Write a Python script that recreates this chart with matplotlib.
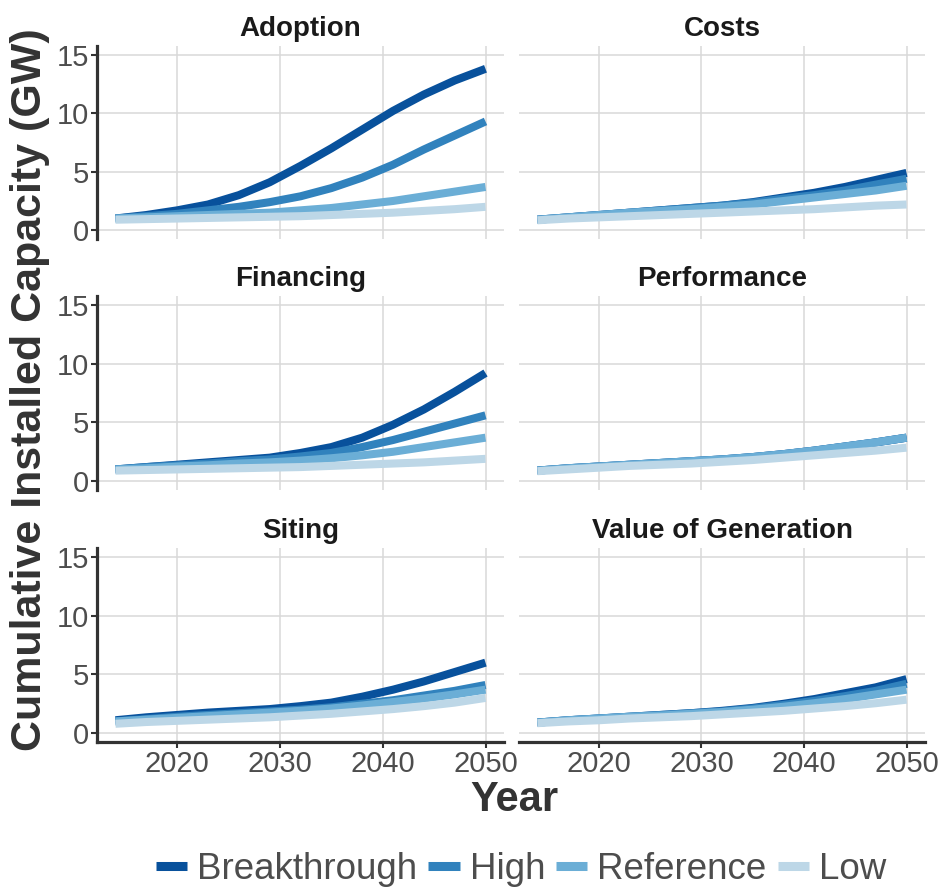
import matplotlib
matplotlib.use("Agg")
import matplotlib.pyplot as plt

plt.rcParams['font.family'] = ['Liberation Sans', 'DejaVu Sans']

years = [2014, 2017, 2020, 2023, 2026, 2029, 2032, 2035, 2038, 2041, 2044, 2047, 2050]
scenarios = ['Breakthrough', 'High', 'Reference', 'Low']
colors = ['#08519C', '#3182BD', '#6BAED6', '#BDD7E7']
panels = ['Adoption', 'Costs', 'Financing', 'Performance', 'Siting', 'Value of Generation']

# cumulative installed capacity (GW)
adoption_breakthrough = [1.0, 1.3, 1.7, 2.2, 3.0, 4.1, 5.5, 7.0, 8.6, 10.2, 11.6, 12.8, 13.8]
adoption_high = [1.0, 1.2, 1.4, 1.7, 2.0, 2.4, 2.9, 3.6, 4.5, 5.6, 6.9, 8.1, 9.3]
adoption_reference = [1.0, 1.1, 1.2, 1.3, 1.4, 1.5, 1.7, 1.9, 2.2, 2.5, 2.9, 3.3, 3.7]
adoption_low = [0.9, 0.95, 1.0, 1.05, 1.1, 1.15, 1.2, 1.3, 1.4, 1.5, 1.65, 1.8, 2.0]

costs_breakthrough = [0.9, 1.1, 1.3, 1.5, 1.7, 1.9, 2.1, 2.4, 2.8, 3.2, 3.7, 4.3, 4.9]
costs_high = [0.9, 1.1, 1.3, 1.5, 1.7, 1.9, 2.1, 2.35, 2.7, 3.0, 3.4, 3.9, 4.4]
costs_reference = [0.9, 1.1, 1.3, 1.5, 1.65, 1.8, 2.0, 2.2, 2.5, 2.8, 3.1, 3.4, 3.8]
costs_low = [0.85, 1.0, 1.1, 1.2, 1.3, 1.4, 1.5, 1.6, 1.7, 1.8, 1.95, 2.1, 2.2]

financing_breakthrough = [1.0, 1.2, 1.4, 1.6, 1.8, 2.0, 2.4, 2.9, 3.7, 4.8, 6.1, 7.6, 9.2]
financing_high = [1.0, 1.2, 1.35, 1.5, 1.7, 1.85, 2.1, 2.4, 2.9, 3.5, 4.2, 4.9, 5.6]
financing_reference = [1.0, 1.1, 1.25, 1.35, 1.5, 1.6, 1.75, 1.95, 2.2, 2.5, 2.9, 3.3, 3.7]
financing_low = [0.9, 0.95, 1.0, 1.05, 1.1, 1.15, 1.2, 1.3, 1.4, 1.5, 1.6, 1.75, 1.9]

performance_breakthrough = [0.9, 1.1, 1.25, 1.4, 1.55, 1.7, 1.85, 2.05, 2.3, 2.6, 2.95, 3.3, 3.7]
performance_high = [0.9, 1.1, 1.25, 1.4, 1.55, 1.7, 1.85, 2.05, 2.3, 2.6, 2.95, 3.3, 3.7]
performance_reference = [0.9, 1.1, 1.25, 1.4, 1.55, 1.7, 1.85, 2.05, 2.3, 2.6, 2.95, 3.3, 3.7]
performance_low = [0.85, 1.0, 1.15, 1.3, 1.4, 1.5, 1.65, 1.8, 2.0, 2.2, 2.4, 2.6, 2.85]

siting_breakthrough = [1.1, 1.35, 1.55, 1.75, 1.9, 2.05, 2.3, 2.6, 3.1, 3.7, 4.4, 5.2, 6.0]
siting_high = [1.0, 1.2, 1.4, 1.55, 1.7, 1.85, 2.0, 2.2, 2.5, 2.8, 3.2, 3.6, 4.1]
siting_reference = [1.0, 1.15, 1.3, 1.45, 1.6, 1.75, 1.9, 2.1, 2.35, 2.65, 2.95, 3.3, 3.7]
siting_low = [0.8, 0.95, 1.05, 1.15, 1.25, 1.35, 1.5, 1.65, 1.85, 2.05, 2.3, 2.6, 3.0]

value_breakthrough = [0.9, 1.1, 1.25, 1.4, 1.55, 1.7, 1.9, 2.15, 2.5, 2.9, 3.4, 3.9, 4.6]
value_high = [0.9, 1.1, 1.25, 1.4, 1.55, 1.7, 1.85, 2.1, 2.4, 2.75, 3.15, 3.6, 4.2]
value_reference = [0.9, 1.1, 1.25, 1.4, 1.5, 1.65, 1.8, 2.0, 2.25, 2.55, 2.9, 3.3, 3.7]
value_low = [0.85, 1.0, 1.1, 1.25, 1.35, 1.45, 1.6, 1.75, 1.9, 2.1, 2.3, 2.55, 2.85]

data = {
    'Adoption': [adoption_breakthrough, adoption_high, adoption_reference, adoption_low],
    'Costs': [costs_breakthrough, costs_high, costs_reference, costs_low],
    'Financing': [financing_breakthrough, financing_high, financing_reference, financing_low],
    'Performance': [performance_breakthrough, performance_high, performance_reference, performance_low],
    'Siting': [siting_breakthrough, siting_high, siting_reference, siting_low],
    'Value of Generation': [value_breakthrough, value_high, value_reference, value_low],
}

fig = plt.figure(figsize=(9.43, 8.88), dpi=100)
W, H = 943, 888
col_x = [(97, 504), (519, 925)]
row_y = [(46, 239), (296, 490), (548, 742)]
axis_col = '#333333'
tick_col = '#4D4D4D'

for i, name in enumerate(panels):
    r, c = divmod(i, 2)
    x0, x1 = col_x[c]
    y0, y1 = row_y[r]
    ax = fig.add_axes([x0 / W, 1 - y1 / H, (x1 - x0) / W, (y1 - y0) / H])
    for vals, col, lab in zip(data[name], colors, scenarios):
        ax.plot(years, vals, color=col, lw=5.8, solid_capstyle='butt',
                solid_joinstyle='round', label=lab)
    ax.set_xlim(2012.2, 2051.8)
    ax.set_ylim(-0.75, 15.75)
    ax.set_xticks([2020, 2030, 2040, 2050])
    ax.set_yticks([0, 5, 10, 15])
    ax.grid(True, color='#D9D9D9', lw=1.1)
    ax.set_axisbelow(True)
    for s in ax.spines.values():
        s.set_visible(False)
    ax.tick_params(length=0, labelsize=21, colors=tick_col, pad=2)
    if c == 0:
        ax.spines['left'].set_visible(True)
        ax.spines['left'].set_color(axis_col)
        ax.spines['left'].set_linewidth(2.3)
        ax.tick_params(axis='y', length=4, width=1.5, color=axis_col)
    else:
        ax.tick_params(axis='y', labelleft=False)
    if r == 2:
        ax.spines['bottom'].set_visible(True)
        ax.spines['bottom'].set_color(axis_col)
        ax.spines['bottom'].set_linewidth(2.3)
        ax.tick_params(axis='x', length=4, width=1.5, color=axis_col)
    else:
        ax.tick_params(axis='x', labelbottom=False)
    ax.set_title(name, fontsize=20, fontweight='bold', color='#1A1A1A', pad=7)
    if i == 0:
        handles, labels = ax.get_legend_handles_labels()

fig.text(30 / W, 1 - 390 / H, 'Cumulative Installed Capacity (GW)', rotation=90,
         ha='center', va='center', fontsize=31, fontweight='bold', color='#333333')
fig.text(514 / W, 1 - 800 / H, 'Year', ha='center', va='center',
         fontsize=30, fontweight='bold', color='#333333')

leg = fig.legend(handles, labels, loc='center', bbox_to_anchor=(521 / W, 1 - 869 / H),
                 ncol=4, frameon=False, fontsize=26.5, handlelength=0.85, handletextpad=0.27,
                 columnspacing=0.3, labelcolor='#4D4D4D')
for h in leg.get_lines():
    h.set_linewidth(6.5)

fig.savefig('out.png', dpi=100)
